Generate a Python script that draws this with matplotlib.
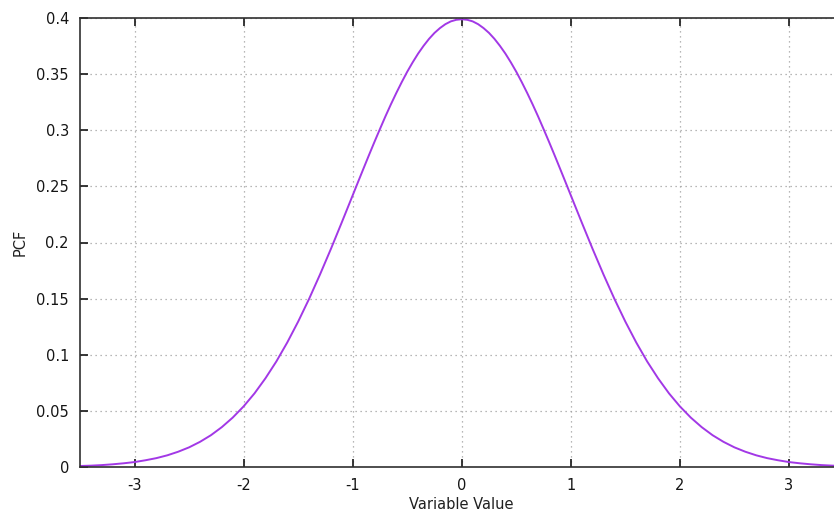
import matplotlib
matplotlib.use('Agg')
import matplotlib.pyplot as plt

# values (finer steps near the peak)
x_values = [-3.5, -3.4, -3.3, -3.2, -3.1, -3.0, -2.9, -2.8, -2.7, -2.6,
            -2.5, -2.4, -2.3, -2.2, -2.1, -2.0, -1.9, -1.8, -1.7, -1.6,
            -1.5, -1.4, -1.3, -1.2, -1.1, -1.0, -0.95, -0.9, -0.85, -0.8,
            -0.75, -0.7, -0.65, -0.6, -0.55, -0.5, -0.45, -0.4, -0.35, -0.3,
            -0.25, -0.2, -0.15, -0.1, -0.05, 0.0, 0.05, 0.1, 0.15, 0.2,
            0.25, 0.3, 0.35, 0.4, 0.45, 0.5, 0.55, 0.6, 0.65, 0.7,
            0.75, 0.8, 0.85, 0.9, 0.95, 1.0, 1.1, 1.2, 1.3, 1.4,
            1.5, 1.6, 1.7, 1.8, 1.9, 2.0, 2.1, 2.2, 2.3, 2.4,
            2.5, 2.6, 2.7, 2.8, 2.9, 3.0, 3.1, 3.2, 3.3, 3.4, 3.5]
pdf_values = [0.0009, 0.0012, 0.0017, 0.0024, 0.0033, 0.0044, 0.0060, 0.0079, 0.0104, 0.0136,
              0.0175, 0.0224, 0.0283, 0.0355, 0.0440, 0.0540, 0.0656, 0.0790, 0.0940, 0.1109,
              0.1295, 0.1497, 0.1714, 0.1942, 0.2179, 0.2420, 0.2541, 0.2661, 0.2780, 0.2897,
              0.3011, 0.3123, 0.3230, 0.3332, 0.3429, 0.3521, 0.3605, 0.3683, 0.3752, 0.3814,
              0.3867, 0.3910, 0.3945, 0.3970, 0.3984, 0.3989, 0.3984, 0.3970, 0.3945, 0.3910,
              0.3867, 0.3814, 0.3752, 0.3683, 0.3605, 0.3521, 0.3429, 0.3332, 0.3230, 0.3123,
              0.3011, 0.2897, 0.2780, 0.2661, 0.2541, 0.2420, 0.2179, 0.1942, 0.1714, 0.1497,
              0.1295, 0.1109, 0.0940, 0.0790, 0.0656, 0.0540, 0.0440, 0.0355, 0.0283, 0.0224,
              0.0175, 0.0136, 0.0104, 0.0079, 0.0060, 0.0044, 0.0033, 0.0024, 0.0017, 0.0012, 0.0009]

x_ticks = [-3, -2, -1, 0, 1, 2, 3]
y_ticks = [0, 0.05, 0.1, 0.15, 0.2, 0.25, 0.3, 0.35, 0.4]
y_tick_labels = ['0', '0.05', '0.1', '0.15', '0.2', '0.25', '0.3', '0.35', '0.4']

plt.rcParams['font.family'] = ['DejaVu Sans']

fig = plt.figure(figsize=(8.34, 5.19), dpi=100)
# right edge of the plot runs past the figure, as in the reference
ax = fig.add_axes([80 / 834, 52 / 519, 763.5 / 834, 449 / 519])

ax.plot(x_values, pdf_values, color='#a238e6', linewidth=1.4)

ax.set_xlim(-3.5, 3.5)
ax.set_ylim(0, 0.4)
ax.set_xticks(x_ticks)
ax.set_xticklabels([str(t) for t in x_ticks])
ax.set_yticks(y_ticks)
ax.set_yticklabels(y_tick_labels)

ax.grid(True, linestyle=(0, (1, 3)), color='#a0a0a0', linewidth=0.9)
ax.tick_params(direction='in', length=6, width=1.2, top=True, right=True,
               labelsize=10.5, colors='#151515', pad=8)
for s in ax.spines.values():
    s.set_linewidth(1.2)
    s.set_color('#303030')

ax.set_xlabel('Variable Value', fontsize=10.5, color='#202020', labelpad=3)
ax.set_ylabel('PCF', fontsize=10.5, color='#202020', labelpad=6)

fig.savefig('out.png', dpi=100)
